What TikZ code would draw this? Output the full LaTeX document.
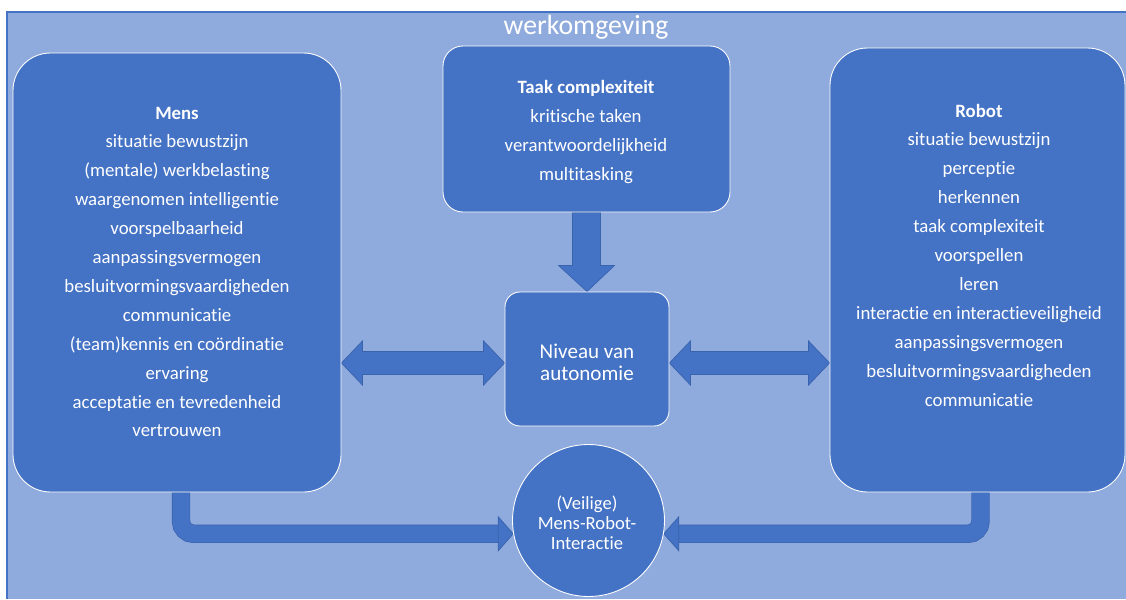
\documentclass[tikz,border=0pt]{standalone}
\usepackage{fontspec}
\setmainfont{Carlito}[Ligatures=NoCommon]
\usetikzlibrary{calc,fit}
\definecolor{bgblue}{HTML}{8FAADC}
\definecolor{boxblue}{HTML}{4472C4}
\definecolor{edgeblue}{HTML}{3A63AE}
\pgfdeclarelayer{behind}
\pgfsetlayers{behind,main}

\begin{document}
\begin{tikzpicture}[x=0.02cm,y=-0.02cm,
    box/.style={draw=white,line width=0.5pt,fill=boxblue,inner sep=0pt},
    listtext/.style={text=white,align=center,font=\fontsize{10.7}{16.45}\selectfont},
    blockarrow/.style={fill=boxblue,draw=edgeblue,line width=0.4pt,line join=miter},
    shaft/.style={draw=edgeblue,double=boxblue,double distance=0.34cm,line width=0.4pt,rounded corners=0.25cm}]
    \useasboundingbox (0,0) rectangle (1126,599);
    \node [text=white,font=\fontsize{15.8}{19}\selectfont] (title) at (586,27) {werkomgeving};

    % the three blocks
    \node [box,rounded corners=0.75cm,fit={(13,53) (341,492)}] (mens) {};
    \node [box,rounded corners=0.4cm,fit={(443,46) (730,212)}] (taak) {};
    \node [box,rounded corners=0.75cm,fit={(830,48) (1125,492)}] (robot) {};
    \node [listtext] (menstxt) at (177,272) {\textbf{Mens}\\situatie bewustzijn\\(mentale) werkbelasting\\waargenomen intelligentie\\voorspelbaarheid\\aanpassingsvermogen\\besluitvormingsvaardigheden\\communicatie\\(team)kennis en coördinatie\\ervaring\\acceptatie en tevredenheid\\vertrouwen};
    \node [listtext] (taaktxt) at (586,132) {\textbf{Taak complexiteit}\\kritische taken\\verantwoordelijkheid\\multitasking};
    \node [listtext] (robottxt) at (979,255) {\textbf{Robot}\\situatie bewustzijn\\perceptie\\herkennen\\taak complexiteit\\voorspellen\\leren\\interactie en interactieveiligheid\\aanpassingsvermogen\\besluitvormingsvaardigheden\\communicatie};

    % centre
    \node [box,rounded corners=0.3cm,fit={(505,292) (669,426)}] (niveau) {};
    \node [text=white,align=center,font=\fontsize{12}{12.6}\selectfont] (niveautxt) at (587,362) {Niveau van\\autonomie};
    \node [box,circle,minimum size=3.04cm] (inter) at (588.5,520.5) {};
    \node [text=white,align=center,font=\fontsize{10.6}{11.3}\selectfont] (intertxt) at (587,523) {(Veilige)\\Mens-Robot-\\Interactie};

    \path (mens.east |- niveau.west) ++(0,4) coordinate (l1);
    \path (niveau.west) ++(0,4) coordinate (l2);
    \path (niveau.east) ++(0,4) coordinate (r1);
    \path (robot.west |- niveau.east) ++(0,4) coordinate (r2);
    \path (mens.south) ++(4,0) coordinate (mb);
    \path (robot.south) ++(3,0) coordinate (rb);

    \begin{pgfonlayer}{behind}
    \fill [bgblue] (7,12) rectangle (1126,599);
    \draw [boxblue,line width=0.85pt] (7,599) -- (7,12) -- (1126,12);
    % block arrows
    \draw [blockarrow] ($(taak.south)+(-14,0)$) -- ($(taak.south)+(14,0)$) -- ($(taak.south)+(14,53)$)
        -- ($(taak.south)+(28,53)$) -- (niveau.north) -- ($(taak.south)+(-28,53)$) -- ($(taak.south)+(-14,53)$) -- cycle;
    \foreach \a/\b in {l1/l2,r1/r2}{
        \draw [blockarrow] (\a) -- ($(\a)+(21,-22)$) -- ($(\a)+(21,-11.5)$) -- ($(\b)+(-21,-11.5)$)
            -- ($(\b)+(-21,-22)$) -- (\b) -- ($(\b)+(-21,22)$) -- ($(\b)+(-21,11.5)$)
            -- ($(\a)+(21,11.5)$) -- ($(\a)+(21,22)$) -- cycle;
    }
    \draw [shaft] (mb) |- ($(inter.190)+(-14,0)$);
    \draw [shaft] (rb) |- ($(inter.350)+(14,0)$);
    \draw [blockarrow] ($(inter.190)+(-15,-17)$) -- (inter.190) -- ($(inter.190)+(-15,17)$) -- cycle;
    \draw [blockarrow] ($(inter.350)+(15,-17)$) -- (inter.350) -- ($(inter.350)+(15,17)$) -- cycle;
    \end{pgfonlayer}
\end{tikzpicture}
\end{document}
